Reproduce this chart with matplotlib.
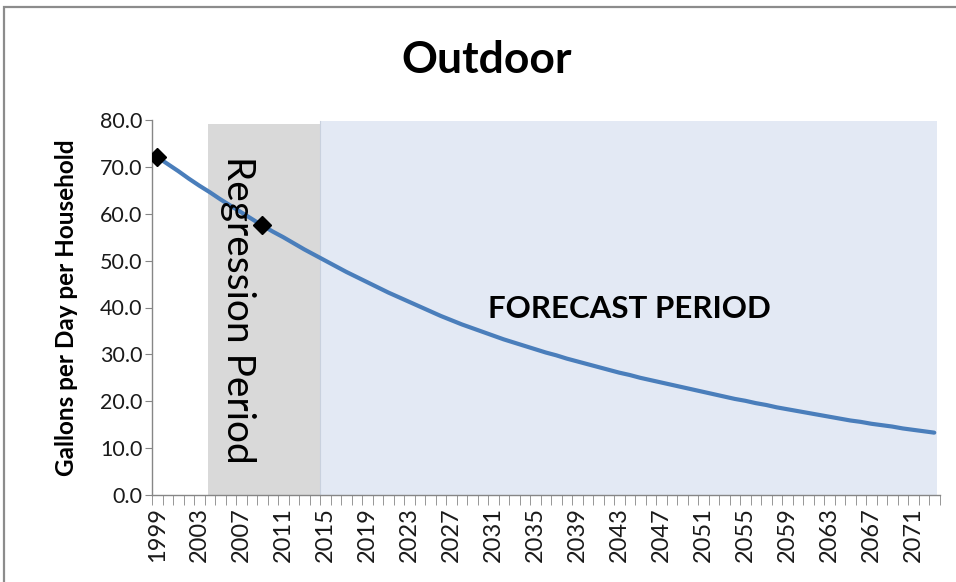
import matplotlib
matplotlib.use("Agg")
import matplotlib.pyplot as plt
from matplotlib.patches import Rectangle
import numpy as np

plt.rcParams['font.family'] = ['Lato', 'DejaVu Sans']

# Years on the category axis
years = list(range(1999, 2074))

# Outdoor household use, gallons per day (modelled / forecast curve)
gpd = [72.1, 70.6, 69.1, 67.5, 66.0, 64.6, 63.1, 61.7, 60.3, 58.9,
       57.5, 56.2, 55.0, 53.7, 52.4, 51.2, 50.0, 48.8, 47.6, 46.5,
       45.4, 44.3, 43.2, 42.2, 41.2, 40.2, 39.2, 38.2, 37.3, 36.4,
       35.6, 34.8, 34.0, 33.2, 32.5, 31.8, 31.1, 30.4, 29.8, 29.1,
       28.5, 27.9, 27.3, 26.7, 26.1, 25.6, 25.0, 24.5, 24.0, 23.5,
       23.0, 22.5, 22.0, 21.5, 21.0, 20.5, 20.1, 19.6, 19.2, 18.7,
       18.3, 17.9, 17.5, 17.1, 16.7, 16.3, 15.9, 15.6, 15.2, 14.9,
       14.6, 14.2, 13.9, 13.6, 13.3]

# Observed survey points
obs_years = [1999, 2009]
obs_gpd = [72.1, 57.5]

y_ticks = [0, 10, 20, 30, 40, 50, 60, 70, 80]

W, H = 956, 582
fig = plt.figure(figsize=(W / 100, H / 100), dpi=100)
ax = fig.add_axes([152 / W, 1 - 495 / H, (939.5 - 152) / W, (495 - 120) / H])

x = np.arange(len(years))
ax.set_xlim(-0.5, len(years) - 0.5)
ax.set_ylim(0, 80)

# Shaded periods
ax.axvspan(4.83, 15.5, ymin=0, ymax=79.2 / 80, color='#D9D9D9', zorder=0, lw=0)
ax.axvspan(15.5, 74.3, ymin=0, ymax=79.8 / 80, color='#E3E9F4', zorder=0, lw=0)
ax.axvline(15.5, ymax=79.8 / 80, color='#C9D1DE', lw=0.8, zorder=0.5)

ax.plot(x, gpd, color='#4A7EBB', lw=3.0, zorder=2, solid_capstyle='round')
ox = [years.index(yv) for yv in obs_years]
ax.plot(ox, obs_gpd, ls='none', marker='D', ms=9.5, color='black', zorder=3)

# Axes styling
for s in ['top', 'right']:
    ax.spines[s].set_visible(False)
for s in ['left', 'bottom']:
    ax.spines[s].set_color('#868686')
    ax.spines[s].set_linewidth(1.0)

ax.set_yticks(y_ticks)
ax.set_yticklabels([f"{v:.1f}" for v in y_ticks], fontsize=15.5, color='#1a1a1a')
ax.tick_params(axis='y', direction='out', length=5, color='#868686', pad=2)

lab_idx = x[::4]
ax.set_xticks(lab_idx)
ax.set_xticklabels([str(years[i]) for i in lab_idx], rotation=90, fontsize=17, color='#1a1a1a')
ax.tick_params(axis='x', which='major', length=0, pad=9)
ax.set_xticks(np.arange(-0.5, len(years) + 0.5, 1.0), minor=True)
ax.tick_params(axis='x', which='minor', direction='out', length=7, color='#868686')

ax.set_ylabel('Gallons per Day per Household', fontsize=17.5, fontweight='bold', labelpad=16)

fig.text(487 / W, 1 - 60 / H, 'Outdoor', ha='center', va='center', fontsize=32, fontweight='bold')

ax.text(7.7, 39.5, 'Regression Period', rotation=-90, ha='center', va='center', fontsize=28, color='black')
ax.text(45.0, 39.7, 'FORECAST PERIOD', ha='center', va='center', fontsize=22.5, fontweight='bold', color='black')

# Chart-area border
fig.add_artist(Rectangle((4 / W, -0.1), 1.2, 1 - 7 / H + 0.1, transform=fig.transFigure,
                         fill=False, edgecolor='#8C8C8C', lw=1.6))

fig.savefig('out.png', dpi=100)
